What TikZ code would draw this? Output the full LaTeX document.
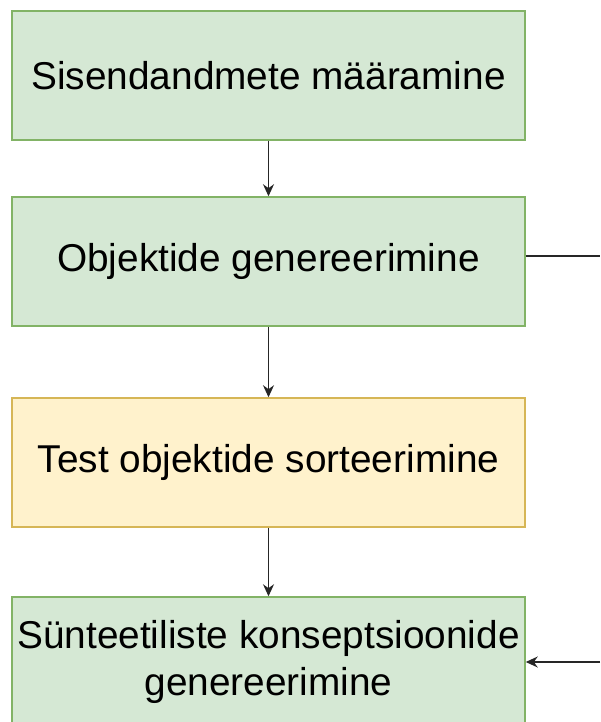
\documentclass[tikz,border=0pt]{standalone}
\usepackage{fontspec}
\setmainfont{Liberation Sans}
\usetikzlibrary{arrows.meta}
\definecolor{gfill}{HTML}{D5E8D4}
\definecolor{gline}{HTML}{82B366}
\definecolor{yfill}{HTML}{FFF2CC}
\definecolor{yline}{HTML}{D6B656}
\begin{document}
\begin{tikzpicture}[x=1pt,y=-1pt,
  box/.style={draw=gline,fill=gfill,line width=1.5pt,minimum width=513pt,minimum height=129pt,inner sep=0pt,align=center,font=\fontsize{38.8}{47}\selectfont},
  ybox/.style={box,draw=yline,fill=yfill},
  conn/.style={line width=1.3pt,draw=black!85},
  arr/.style={conn,-{Stealth[length=12pt,width=11pt]}}]
\useasboundingbox (0,0) rectangle (600,722);
\clip (0,0) rectangle (600,722);
\node[box]  (b1) at (268.5,75.5)  {Sisendandmete määramine};
\node[box]  (b2) at (268.5,261.5) {Objektide genereerimine};
\node[ybox] (b3) at (268.5,462.5) {Test objektide sorteerimine};
\node[box]  (b4) at (268.5,661.5) {Sünteetiliste konseptsioonide\\genereerimine};
\coordinate (o1) at (600,256);
\coordinate (o2) at (600,662);
\draw[arr] (b1) -- (b2);
\draw[arr] (b2) -- (b3);
\draw[arr] (b3) -- (b4);
\draw[conn] (b2.east |- o1) -- (o1);
\draw[arr] (o2) -- (b4.east |- o2);
\end{tikzpicture}
\end{document}
